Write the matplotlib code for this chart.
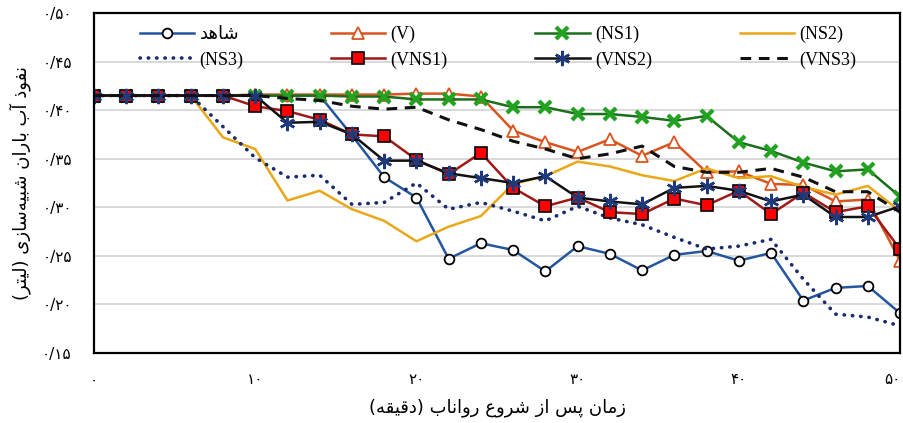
import numpy as np
import matplotlib
matplotlib.use("Agg")
import matplotlib.pyplot as plt

# Data (minutes after runoff start)
minutes = list(range(0, 52, 2))

control = [0.415, 0.415, 0.415, 0.415, 0.415, 0.415, 0.415, 0.415, 0.374, 0.331,
           0.310, 0.247, 0.263, 0.256, 0.234, 0.260, 0.252, 0.235, 0.251, 0.255,
           0.245, 0.253, 0.204, 0.217, 0.219, 0.191]
v = [0.415, 0.415, 0.415, 0.415, 0.415, 0.416, 0.416, 0.416, 0.416, 0.416,
     0.417, 0.417, 0.414, 0.379, 0.367, 0.357, 0.370, 0.353, 0.367, 0.336,
     0.337, 0.324, 0.323, 0.306, 0.308, 0.245]
ns1 = [0.415, 0.415, 0.415, 0.415, 0.415, 0.415, 0.415, 0.415, 0.414, 0.414,
       0.411, 0.411, 0.411, 0.403, 0.403, 0.396, 0.396, 0.393, 0.389, 0.394,
       0.367, 0.358, 0.346, 0.337, 0.339, 0.311]
ns2 = [0.415, 0.415, 0.415, 0.415, 0.372, 0.360, 0.307, 0.317, 0.298, 0.286,
       0.265, 0.280, 0.291, 0.324, 0.332, 0.347, 0.342, 0.333, 0.327, 0.340,
       0.330, 0.332, 0.321, 0.313, 0.322, 0.296]
ns3 = [0.415, 0.415, 0.415, 0.415, 0.383, 0.351, 0.331, 0.333, 0.303, 0.305,
       0.325, 0.298, 0.305, 0.296, 0.286, 0.301, 0.289, 0.282, 0.269, 0.257,
       0.260, 0.267, 0.226, 0.190, 0.187, 0.178]
vns1 = [0.415, 0.415, 0.415, 0.415, 0.415, 0.404, 0.399, 0.390, 0.375, 0.373,
        0.349, 0.334, 0.356, 0.320, 0.301, 0.310, 0.295, 0.293, 0.309, 0.302,
        0.317, 0.293, 0.315, 0.295, 0.301, 0.257]
vns2 = [0.415, 0.415, 0.415, 0.415, 0.415, 0.415, 0.387, 0.388, 0.375, 0.348,
        0.348, 0.335, 0.330, 0.325, 0.332, 0.310, 0.306, 0.303, 0.320, 0.322,
        0.317, 0.306, 0.313, 0.290, 0.290, 0.301]
vns3 = [0.415, 0.415, 0.415, 0.415, 0.415, 0.415, 0.412, 0.410, 0.404, 0.401,
        0.403, 0.390, 0.380, 0.368, 0.360, 0.350, 0.355, 0.363, 0.342, 0.336,
        0.336, 0.340, 0.331, 0.316, 0.316, 0.295]

x_ticks = [0, 10, 20, 30, 40, 50]
x_tick_labels = ["۰", "۱۰", "۲۰", "۳۰", "۴۰", "۵۰"]
y_ticks = [0.15, 0.20, 0.25, 0.30, 0.35, 0.40, 0.45, 0.50]
y_tick_labels = ["۰/۱۵", "۰/۲۰", "۰/۲۵", "۰/۳۰", "۰/۳۵", "۰/۴۰", "۰/۴۵", "۰/۵۰"]

control_label = "شاهد"
x_label = "زمان پس از شروع رواناب (دقیقه)"
y_label = "نفوذ آب باران شبیه\u200cسازی (لیتر)"

# matplotlib does no Arabic shaping: map letters to presentation forms, then reverse
FORMS = {
    'ا': ('\uFE8D', '\uFE8E'), 'آ': ('\uFE81', '\uFE82'),
    'د': ('\uFEA9', '\uFEAA'), 'ذ': ('\uFEAB', '\uFEAC'),
    'ر': ('\uFEAD', '\uFEAE'), 'ز': ('\uFEAF', '\uFEB0'),
    'و': ('\uFEED', '\uFEEE'),
    'ب': ('\uFE8F', '\uFE90', '\uFE91', '\uFE92'),
    'پ': ('\uFB56', '\uFB57', '\uFB58', '\uFB59'),
    'ت': ('\uFE95', '\uFE96', '\uFE97', '\uFE98'),
    'س': ('\uFEB1', '\uFEB2', '\uFEB3', '\uFEB4'),
    'ش': ('\uFEB5', '\uFEB6', '\uFEB7', '\uFEB8'),
    'ع': ('\uFEC9', '\uFECA', '\uFECB', '\uFECC'),
    'ف': ('\uFED1', '\uFED2', '\uFED3', '\uFED4'),
    'ق': ('\uFED5', '\uFED6', '\uFED7', '\uFED8'),
    'ل': ('\uFEDD', '\uFEDE', '\uFEDF', '\uFEE0'),
    'م': ('\uFEE1', '\uFEE2', '\uFEE3', '\uFEE4'),
    'ن': ('\uFEE5', '\uFEE6', '\uFEE7', '\uFEE8'),
    'ه': ('\uFEE9', '\uFEEA', '\uFEEB', '\uFEEC'),
    'ی': ('\uFEEF', '\uFEF0', '\uFEF3', '\uFEF4'),
}


def rtl(s):
    out = []
    for i, ch in enumerate(s):
        f = FORMS.get(ch)
        if f is None:
            if ch != '\u200c':
                out.append(ch)
            continue
        prev = s[i - 1] if i > 0 else ''
        nxt = s[i + 1] if i + 1 < len(s) else ''
        jp = prev in FORMS and len(FORMS[prev]) == 4
        jn = len(f) == 4 and nxt in FORMS
        if jp and jn:
            out.append(f[3])
        elif jp:
            out.append(f[1])
        elif jn:
            out.append(f[2])
        else:
            out.append(f[0])
    vis = ''.join(out)[::-1]
    return vis.translate(str.maketrans('()', ')('))


fig = plt.figure(figsize=(9.04, 4.23), dpi=100)
ax = fig.add_axes([0.104, 0.1655, 0.8916, 0.8038])

lw = 1.8
h_control, = ax.plot(minutes, control, color='#2456a0', lw=lw, marker='o', ms=7,
                     mfc='white', mec='black', mew=1.3, label=rtl(control_label))
h_v, = ax.plot(minutes, v, color='#d9541e', lw=lw, marker='^', ms=9,
               mfc='white', mec='#d9541e', mew=1.3, label='(V)')
h_ns1, = ax.plot(minutes, ns1, color='#1b6e1b', lw=lw, marker='x', ms=8,
                 mec='#21a321', mew=3, label='(NS1)')
h_ns2, = ax.plot(minutes, ns2, color='#eaa718', lw=lw, label='(NS2)')
h_ns3, = ax.plot(minutes, ns3, color='#1a2a6c', lw=2.6, linestyle=(0, (0.1, 2.2)),
                 dash_capstyle='round', label='(NS3)')
h_vns1, = ax.plot(minutes, vns1, color='#a01818', lw=lw, marker='s', ms=9,
                  mfc='#ff0000', mec='black', mew=1.2, label='(VNS1)')
h_vns2, = ax.plot(minutes, vns2, color='#111111', lw=lw, marker=(6, 2, 0), ms=11,
                  mec='#1f3a7a', mew=1.8, label='(VNS2)')
h_vns3, = ax.plot(minutes, vns3, color='#111111', lw=2.2, linestyle=(0, (3.5, 2.5)),
                  label='(VNS3)')

ax.set_xlim(0, 50)
ax.set_ylim(0.15, 0.50)
ax.set_xticks(x_ticks)
ax.set_xticklabels(x_tick_labels, fontsize=11, family=['DejaVu Sans'])
ax.get_xticklabels()[-1].set_horizontalalignment('right')
ax.set_yticks(y_ticks)
ax.set_yticklabels(y_tick_labels, fontsize=11, family=['DejaVu Sans'])
ax.tick_params(length=0)
ax.tick_params(axis='y', pad=16)
ax.tick_params(axis='x', pad=14)
ax.yaxis.grid(True, color='#d3d3d3', lw=1.2)
ax.set_axisbelow(True)
for sp in ax.spines.values():
    sp.set_color('black')
    sp.set_linewidth(1.6)

ax.set_xlabel(rtl(x_label), fontsize=13, family=['DejaVu Sans'], labelpad=8)
ax.set_ylabel(rtl(y_label), fontsize=13, family=['DejaVu Sans'], labelpad=8)

handles = [h_control, h_ns3, h_v, h_vns1, h_ns1, h_vns2, h_ns2, h_vns3]
ax.legend(handles=handles, labels=[h.get_label() for h in handles], ncol=4,
          loc='upper left', bbox_to_anchor=(0.057, 0.962), frameon=False,
          prop={'family': ['Liberation Serif', 'DejaVu Sans'], 'size': 13},
          handlelength=3.0, handletextpad=0.3, columnspacing=4.85,
          labelspacing=0.45, borderpad=0, borderaxespad=0, numpoints=1)

fig.savefig('out.png', dpi=100)
